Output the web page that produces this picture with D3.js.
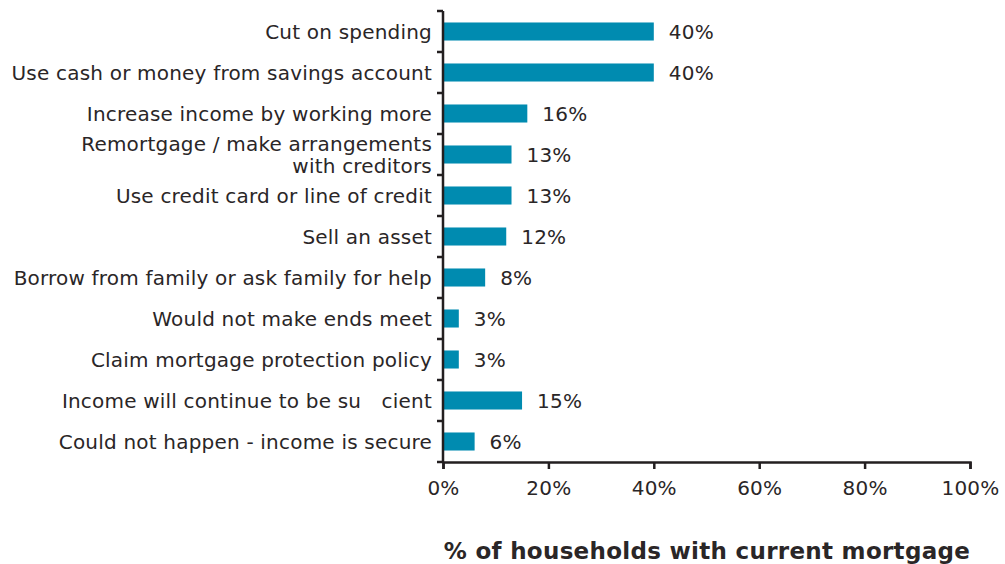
<!DOCTYPE html>
<html>
<head>
<meta charset="utf-8">
<script src="https://cdn.jsdelivr.net/npm/d3@7"></script>
<style>
  html, body { margin: 0; padding: 0; background: #fff; }
  svg text { font-family: "DejaVu Sans", sans-serif; fill: #2a2627; letter-spacing: 0.2px; }
</style>
</head>
<body>
<svg id="chart" width="1005" height="564"></svg>
<script>
// Responses: how households with a current mortgage would cope
const categories = [
  "Cut on spending",
  "Use cash or money from savings account",
  "Increase income by working more",
  "Remortgage / make arrangements\nwith creditors",
  "Use credit card or line of credit",
  "Sell an asset",
  "Borrow from family or ask family for help",
  "Would not make ends meet",
  "Claim mortgage protection policy",
  "Income will continue to be su\u2002\u2002cient",
  "Could not happen - income is secure"
];
const values = [40, 40, 16, 13, 13, 12, 8, 3, 3, 15, 6];
const xTicks = [0, 20, 40, 60, 80, 100];
const axisTitle = "% of households with current mortgage";

const svg = d3.select("#chart");
const margin = { left: 443, right: 35, top: 11, bottom: 102 };
const W = 1005, H = 564;
const fontSize = 20;

const x = d3.scaleLinear().domain([0, 100]).range([margin.left, W - margin.right]);
const y = d3.scaleBand().domain(categories).range([margin.top, H - margin.bottom]).paddingInner(0.56).paddingOuter(0.28);

// bars
svg.append("g").selectAll("rect").data(values).join("rect")
  .attr("x", x(0))
  .attr("y", (d, i) => y(categories[i]))
  .attr("width", d => x(d) - x(0))
  .attr("height", y.bandwidth())
  .attr("fill", "#008bb0");

// value labels
svg.append("g").selectAll("text").data(values).join("text")
  .attr("x", d => x(d) + 15)
  .attr("y", (d, i) => y(categories[i]) + y.bandwidth() / 2)
  .attr("dy", "0.36em")
  .attr("font-size", fontSize)
  .text(d => d + "%");

// category labels (multi-line labels drawn as separate lines)
const labelG = svg.append("g");
categories.forEach(d => {
  const lines = d.split("\n");
  const cy = y(d) + y.bandwidth() / 2;
  const lineGap = 22;
  lines.forEach((ln, k) => {
    labelG.append("text")
      .attr("text-anchor", "end")
      .attr("x", x(0) - 11)
      .attr("y", cy + (k - (lines.length - 1) / 2) * lineGap)
      .attr("dy", "0.36em")
      .attr("font-size", fontSize)
      .text(ln);
  });
});

// y axis: line with ticks at band boundaries
const plotTop = margin.top, plotBottom = H - margin.bottom;
const yAxis = svg.append("g").attr("stroke", "#231f20").attr("stroke-width", 2.5);
yAxis.append("line").attr("x1", x(0)).attr("x2", x(0)).attr("y1", plotTop).attr("y2", plotBottom);
d3.range(categories.length + 1).forEach(i => {
  const yy = plotTop + i * (plotBottom - plotTop) / categories.length;
  yAxis.append("line").attr("x1", x(0) - 6).attr("x2", x(0)).attr("y1", yy).attr("y2", yy);
});

// x axis
const xAxis = svg.append("g").attr("transform", `translate(0,${plotBottom})`)
  .call(d3.axisBottom(x).tickValues(xTicks).tickFormat(d => d + "%").tickSize(7).tickPadding(12));
xAxis.select(".domain").attr("stroke", "#231f20").attr("stroke-width", 2.5);
xAxis.selectAll(".tick line").attr("stroke", "#231f20").attr("stroke-width", 2.5);
xAxis.selectAll(".tick text").attr("font-size", fontSize).attr("font-family", "DejaVu Sans, sans-serif").attr("fill", "#2a2627");

// axis title
svg.append("text")
  .attr("x", 707)
  .attr("y", 559)
  .attr("text-anchor", "middle")
  .attr("font-size", 23)
  .attr("font-weight", 700)
  .style("letter-spacing", "0.3px")
  .text(axisTitle);
</script>
</body>
</html>
